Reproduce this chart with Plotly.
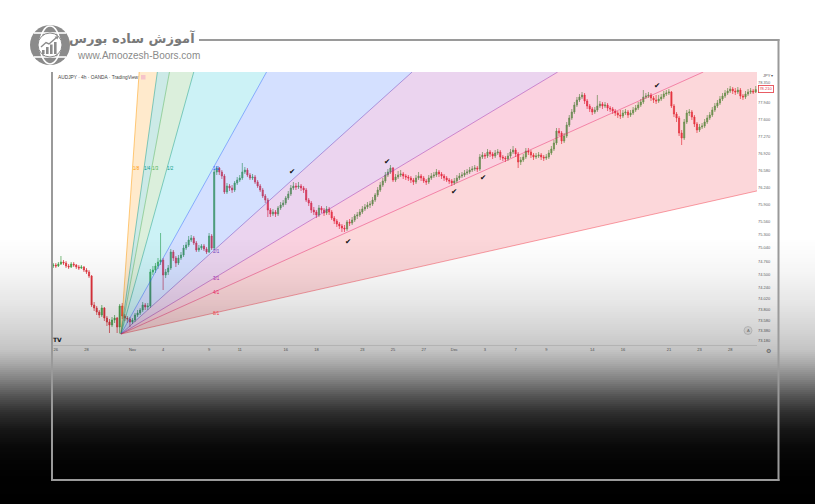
import numpy as np
import plotly.graph_objects as go

W, H = 815, 504

# ------------------------------------------------------------------ data
open_prices = [
 74.68, 74.70, 74.68, 74.72, 74.76, 74.74, 74.68, 74.66, 74.72, 74.70,
 74.66, 74.64, 74.66, 74.60, 74.56, 74.48, 73.90, 73.84, 73.76, 73.70,
 73.84, 73.64, 73.56, 73.50, 73.60, 73.64, 73.46, 73.88, 73.68, 73.64,
 73.62, 73.56, 73.60, 73.70, 73.74, 73.80, 73.90, 73.86, 73.88, 74.56,
 74.60, 74.68, 74.76, 74.80, 74.50, 74.56, 74.64, 74.96, 74.84, 74.74,
 74.84, 74.90, 75.04, 75.10, 75.20, 75.24, 75.14, 75.00, 75.04, 75.08,
 75.02, 74.96, 75.28, 75.04, 76.56, 76.64, 76.56, 76.48, 76.16, 76.28,
 76.24, 76.20, 76.34, 76.40, 76.44, 76.56, 76.60, 76.50, 76.44, 76.46,
 76.36, 76.28, 76.20, 76.08, 76.00, 75.80, 75.72, 75.76, 75.72, 75.84,
 75.90, 75.94, 76.04, 76.12, 76.24, 76.28, 76.26, 76.28, 76.24, 76.20,
 76.00, 75.94, 75.80, 75.76, 75.70, 75.84, 75.80, 75.74, 75.82, 75.76,
 75.64, 75.58, 75.52, 75.48, 75.44, 75.42, 75.56, 75.54, 75.60, 75.68,
 75.70, 75.76, 75.82, 75.86, 75.90, 75.92, 76.00, 76.10, 76.20, 76.30,
 76.38, 76.50, 76.56, 76.64, 76.40, 76.46, 76.50, 76.52, 76.48, 76.46,
 76.44, 76.40, 76.36, 76.44, 76.48, 76.44, 76.38, 76.36, 76.44, 76.48,
 76.50, 76.56, 76.52, 76.48, 76.44, 76.40, 76.38, 76.34, 76.38, 76.44,
 76.48, 76.50, 76.54, 76.56, 76.60, 76.62, 76.64, 76.62, 76.86, 76.90,
 76.88, 76.96, 76.92, 76.88, 76.94, 76.96, 76.86, 76.84, 76.82, 76.88,
 76.96, 77.00, 76.92, 76.76, 76.80, 76.86, 76.98, 76.96, 76.90, 76.86,
 76.88, 76.90, 76.86, 76.84, 76.86, 76.94, 77.02, 77.14, 77.38, 77.34,
 77.18, 77.28, 77.50, 77.64, 77.76, 77.90, 78.00, 78.06, 78.10, 77.98,
 77.88, 77.82, 77.76, 77.80, 77.88, 77.92, 77.88, 77.90, 77.84, 77.82,
 77.78, 77.74, 77.70, 77.68, 77.74, 77.76, 77.70, 77.74, 77.80, 77.84,
 77.90, 77.96, 78.06, 78.08, 78.10, 78.04, 78.00, 77.98, 78.02, 78.06,
 78.12, 78.14, 78.16, 77.88, 77.72, 77.64, 77.34, 77.24, 77.56, 77.74,
 77.76, 77.66, 77.52, 77.40, 77.46, 77.48, 77.56, 77.64, 77.70, 77.80,
 77.88, 77.94, 78.02, 78.08, 78.14, 78.18, 78.22, 78.18, 78.16, 78.20,
 78.08, 78.06, 78.12, 78.16, 78.18, 78.16]

high_prices = [
 74.74, 74.74, 74.76, 74.88, 74.80, 74.78, 74.72, 74.76, 74.76, 74.72,
 74.70, 74.70, 74.68, 74.64, 74.60, 74.50, 73.96, 73.88, 73.80, 73.90,
 73.86, 73.68, 73.62, 73.66, 73.70, 73.66, 73.92, 73.94, 73.72, 73.68,
 73.66, 73.64, 73.74, 73.80, 73.84, 73.96, 73.94, 73.94, 74.62, 74.68,
 74.74, 74.84, 75.34, 74.84, 74.62, 74.70, 75.02, 75.00, 74.88, 74.90,
 74.96, 75.10, 75.16, 75.28, 75.30, 75.28, 75.18, 75.10, 75.12, 75.12,
 75.06, 75.34, 75.32, 76.62, 76.68, 76.66, 76.60, 76.52, 76.34, 76.32,
 76.30, 76.38, 76.46, 76.50, 76.74, 76.66, 76.64, 76.54, 76.52, 76.50,
 76.40, 76.32, 76.24, 76.12, 76.04, 75.84, 75.82, 75.80, 75.88, 75.96,
 76.00, 76.08, 76.18, 76.30, 76.36, 76.34, 76.36, 76.32, 76.28, 76.24,
 76.04, 75.98, 75.86, 75.80, 75.90, 75.88, 75.84, 75.88, 75.86, 75.80,
 75.68, 75.62, 75.56, 75.52, 75.50, 75.60, 75.62, 75.66, 75.72, 75.76,
 75.82, 75.88, 75.92, 75.96, 75.98, 76.06, 76.14, 76.26, 76.36, 76.44,
 76.56, 76.62, 76.70, 76.66, 76.52, 76.58, 76.60, 76.56, 76.52, 76.50,
 76.48, 76.44, 76.50, 76.56, 76.52, 76.48, 76.42, 76.50, 76.54, 76.56,
 76.62, 76.60, 76.56, 76.52, 76.48, 76.44, 76.42, 76.44, 76.50, 76.54,
 76.56, 76.60, 76.62, 76.66, 76.68, 76.70, 76.68, 76.92, 76.96, 76.94,
 77.02, 77.00, 76.96, 77.00, 77.02, 77.00, 76.90, 76.88, 76.94, 77.02,
 77.08, 77.04, 76.96, 76.86, 76.92, 77.04, 77.04, 77.00, 76.94, 76.94,
 76.96, 76.94, 76.90, 76.92, 77.00, 77.08, 77.20, 77.44, 77.44, 77.38,
 77.34, 77.56, 77.70, 77.82, 77.96, 78.06, 78.12, 78.16, 78.14, 78.02,
 77.92, 77.86, 77.86, 78.10, 77.98, 77.96, 77.96, 77.94, 77.88, 77.86,
 77.82, 77.78, 77.80, 77.80, 77.82, 77.80, 77.80, 77.86, 77.90, 77.96,
 78.02, 78.20, 78.14, 78.16, 78.14, 78.08, 78.10, 78.10, 78.12, 78.18,
 78.20, 78.22, 78.18, 77.92, 77.76, 77.68, 77.40, 77.62, 77.80, 77.82,
 77.80, 77.70, 77.56, 77.52, 77.54, 77.62, 77.70, 77.76, 77.86, 77.94,
 78.00, 78.08, 78.14, 78.20, 78.24, 78.28, 78.26, 78.24, 78.26, 78.24,
 78.12, 78.18, 78.22, 78.24, 78.22, 78.28]

low_prices = [
 74.64, 74.64, 74.66, 74.70, 74.70, 74.64, 74.62, 74.64, 74.66, 74.62,
 74.60, 74.62, 74.56, 74.52, 74.44, 73.86, 73.78, 73.70, 73.64, 73.66,
 73.58, 73.48, 73.34, 73.46, 73.54, 73.34, 73.33, 73.62, 73.58, 73.54,
 73.46, 73.52, 73.56, 73.66, 73.70, 73.76, 73.80, 73.80, 73.84, 74.50,
 74.54, 74.62, 74.70, 74.20, 74.44, 74.50, 74.60, 74.78, 74.66, 74.70,
 74.80, 74.86, 75.00, 75.06, 75.16, 75.10, 74.96, 74.96, 75.00, 74.98,
 74.92, 74.94, 75.00, 75.00, 76.50, 76.50, 76.42, 76.12, 76.12, 76.18,
 76.14, 76.16, 76.30, 76.36, 76.40, 76.52, 76.46, 76.40, 76.40, 76.32,
 76.24, 76.16, 76.04, 75.94, 75.66, 75.66, 75.68, 75.66, 75.68, 75.80,
 75.86, 75.90, 76.00, 76.08, 76.20, 76.20, 76.22, 76.18, 76.14, 75.96,
 75.88, 75.74, 75.70, 75.64, 75.66, 75.74, 75.68, 75.70, 75.70, 75.60,
 75.52, 75.46, 75.42, 75.36, 75.36, 75.38, 75.48, 75.50, 75.56, 75.62,
 75.66, 75.72, 75.78, 75.82, 75.84, 75.88, 75.96, 76.06, 76.16, 76.26,
 76.34, 76.46, 76.52, 76.36, 76.36, 76.42, 76.46, 76.42, 76.40, 76.38,
 76.34, 76.30, 76.32, 76.40, 76.38, 76.34, 76.30, 76.32, 76.40, 76.44,
 76.46, 76.46, 76.42, 76.38, 76.36, 76.32, 76.28, 76.30, 76.34, 76.40,
 76.44, 76.46, 76.50, 76.52, 76.56, 76.58, 76.56, 76.58, 76.82, 76.82,
 76.84, 76.86, 76.82, 76.84, 76.90, 76.80, 76.78, 76.76, 76.78, 76.84,
 76.92, 76.86, 76.64, 76.70, 76.76, 76.82, 76.90, 76.84, 76.80, 76.82,
 76.84, 76.80, 76.78, 76.80, 76.82, 76.90, 76.98, 77.10, 77.28, 77.12,
 77.14, 77.24, 77.46, 77.60, 77.72, 77.86, 77.96, 78.02, 77.92, 77.82,
 77.76, 77.70, 77.72, 77.76, 77.84, 77.82, 77.84, 77.78, 77.76, 77.72,
 77.68, 77.64, 77.62, 77.64, 77.70, 77.64, 77.66, 77.70, 77.76, 77.80,
 77.86, 77.92, 78.02, 78.04, 77.98, 77.94, 77.92, 77.94, 77.98, 78.02,
 78.08, 78.10, 77.84, 77.66, 77.56, 77.28, 77.10, 77.20, 77.52, 77.68,
 77.60, 77.46, 77.34, 77.36, 77.42, 77.44, 77.52, 77.60, 77.66, 77.76,
 77.84, 77.90, 77.98, 78.04, 78.10, 78.14, 78.12, 78.10, 78.12, 78.02,
 78.00, 78.02, 78.08, 78.12, 78.12, 78.14]

close_prices = [
 74.70, 74.68, 74.72, 74.76, 74.74, 74.68, 74.66, 74.72, 74.70, 74.66,
 74.64, 74.66, 74.60, 74.56, 74.48, 73.90, 73.84, 73.76, 73.70, 73.84,
 73.64, 73.56, 73.50, 73.60, 73.64, 73.46, 73.88, 73.68, 73.64, 73.62,
 73.56, 73.60, 73.70, 73.74, 73.80, 73.90, 73.86, 73.88, 74.56, 74.60,
 74.68, 74.76, 74.80, 74.50, 74.56, 74.64, 74.96, 74.84, 74.74, 74.84,
 74.90, 75.04, 75.10, 75.20, 75.24, 75.14, 75.00, 75.04, 75.08, 75.02,
 74.96, 75.28, 75.04, 76.56, 76.64, 76.56, 76.48, 76.16, 76.28, 76.24,
 76.20, 76.34, 76.40, 76.44, 76.56, 76.60, 76.50, 76.44, 76.46, 76.36,
 76.28, 76.20, 76.08, 76.00, 75.80, 75.72, 75.76, 75.72, 75.84, 75.90,
 75.94, 76.04, 76.12, 76.24, 76.28, 76.26, 76.28, 76.24, 76.20, 76.00,
 75.94, 75.80, 75.76, 75.70, 75.84, 75.80, 75.74, 75.82, 75.76, 75.64,
 75.58, 75.52, 75.48, 75.44, 75.42, 75.56, 75.54, 75.60, 75.68, 75.70,
 75.76, 75.82, 75.86, 75.90, 75.92, 76.00, 76.10, 76.20, 76.30, 76.38,
 76.50, 76.56, 76.64, 76.40, 76.46, 76.50, 76.52, 76.48, 76.46, 76.44,
 76.40, 76.36, 76.44, 76.48, 76.44, 76.38, 76.36, 76.44, 76.48, 76.50,
 76.56, 76.52, 76.48, 76.44, 76.40, 76.38, 76.34, 76.38, 76.44, 76.48,
 76.50, 76.54, 76.56, 76.60, 76.62, 76.64, 76.62, 76.86, 76.90, 76.88,
 76.96, 76.92, 76.88, 76.94, 76.96, 76.86, 76.84, 76.82, 76.88, 76.96,
 77.00, 76.92, 76.76, 76.80, 76.86, 76.98, 76.96, 76.90, 76.86, 76.88,
 76.90, 76.86, 76.84, 76.86, 76.94, 77.02, 77.14, 77.38, 77.34, 77.18,
 77.28, 77.50, 77.64, 77.76, 77.90, 78.00, 78.06, 78.10, 77.98, 77.88,
 77.82, 77.76, 77.80, 77.88, 77.92, 77.88, 77.90, 77.84, 77.82, 77.78,
 77.74, 77.70, 77.68, 77.74, 77.76, 77.70, 77.74, 77.80, 77.84, 77.90,
 77.96, 78.06, 78.08, 78.10, 78.04, 78.00, 77.98, 78.02, 78.06, 78.12,
 78.14, 78.16, 77.88, 77.72, 77.64, 77.34, 77.24, 77.56, 77.74, 77.76,
 77.66, 77.52, 77.40, 77.46, 77.48, 77.56, 77.64, 77.70, 77.80, 77.88,
 77.94, 78.02, 78.08, 78.14, 78.18, 78.22, 78.18, 78.16, 78.20, 78.08,
 78.06, 78.12, 78.16, 78.18, 78.16, 78.21]

candle_idx = list(range(len(close_prices)))

day_tick_idx = [1, 13, 31, 43, 61, 73, 91, 103, 121, 133, 145, 157, 169, 181,
                193, 211, 223, 241, 253, 265]
day_tick_text = ["26", "28", "Nov", "4", "9", "11", "16", "18", "23", "25", "27",
                 "Dec", "3", "7", "9", "14", "16", "21", "23", "28"]

price_tick_vals = [78.35, 77.94, 77.60, 77.27, 76.92, 76.58, 76.24, 75.90, 75.56,
                   75.30, 75.04, 74.76, 74.50, 74.24, 74.02, 73.80, 73.58, 73.38, 73.18]
price_tick_text = ["78.350", "77.940", "77.600", "77.270", "76.920", "76.580",
                   "76.240", "75.900", "75.560", "75.300", "75.040", "74.760",
                   "74.500", "74.240", "74.020", "73.800", "73.580", "73.380", "73.180"]

# Gann fan anchors (candle index, price)
fan_anchor = (26.5, 73.32)
fan_box = (62.5, 76.63)
fan_ratios = [8, 4, 3, 2, 1, 1 / 2, 1 / 3, 1 / 4, 1 / 8]
fan_labels = ["1/8", "1/4", "1/3", "1/2", "1/1", "2/1", "3/1", "4/1", "8/1"]
fan_line_colors = ["rgba(255,152,0,0.55)", "rgba(0,150,136,0.5)", "rgba(76,175,80,0.5)",
                   "rgba(8,153,129,0.5)", "rgba(41,98,255,0.5)", "rgba(103,58,183,0.5)",
                   "rgba(156,39,176,0.5)", "rgba(233,30,99,0.5)", "rgba(242,54,69,0.5)"]
fan_label_colors = ["#FF9800", "#009688", "#4CAF50", "#089981", "#2962FF",
                    "#673AB7", "#9C27B0", "#E91E63", "#F23645"]
fan_band_colors = ["rgba(255,152,0,0.2)", "rgba(0,150,136,0.2)", "rgba(76,175,80,0.2)",
                   "rgba(0,188,212,0.2)", "rgba(41,98,255,0.2)", "rgba(156,39,176,0.2)",
                   "rgba(233,30,99,0.2)", "rgba(242,54,69,0.2)"]

check_idx = [93.5, 130.7, 115.4, 156.9, 168.2, 236.4]
check_price = [76.56, 76.76, 75.16, 76.16, 76.44, 78.28]

# ------------------------------------------------------------------ helpers
def PX(x):
    return x / W


def PY(y):
    return 1 - y / H


X_MIN, X_MAX = -0.5, 275.5
Y_MIN, Y_MAX = 73.10, 78.56
unit_slope = (fan_box[1] - fan_anchor[1]) / (fan_box[0] - fan_anchor[0])


def fan_end(r):
    s = unit_slope * r
    xt = fan_anchor[0] + (Y_MAX - fan_anchor[1]) / s
    if xt <= X_MAX:
        return xt, Y_MAX, "top"
    return X_MAX, fan_anchor[1] + s * (X_MAX - fan_anchor[0]), "right"


fig = go.Figure()

# fan bands
for k in range(len(fan_ratios) - 1):
    xa, ya, sa = fan_end(fan_ratios[k])
    xb, yb, sb = fan_end(fan_ratios[k + 1])
    xs = [fan_anchor[0], xa]
    ys = [fan_anchor[1], ya]
    if sa == "top" and sb == "right":
        xs.append(X_MAX)
        ys.append(Y_MAX)
    xs += [xb, fan_anchor[0]]
    ys += [yb, fan_anchor[1]]
    fig.add_trace(go.Scatter(x=xs, y=ys, mode="lines", fill="toself",
                             fillcolor=fan_band_colors[k], line=dict(width=0),
                             hoverinfo="skip", showlegend=False))

# fan lines
for r, col in zip(fan_ratios, fan_line_colors):
    xe, ye, _ = fan_end(r)
    fig.add_trace(go.Scatter(x=[fan_anchor[0], xe], y=[fan_anchor[1], ye], mode="lines",
                             line=dict(color=col, width=0.9), hoverinfo="skip",
                             showlegend=False))

GREEN = "#47a34c"
RED = "#e3343e"
fig.add_trace(go.Candlestick(
    x=candle_idx, open=open_prices, high=high_prices, low=low_prices, close=close_prices,
    increasing=dict(line=dict(color=GREEN, width=0.7), fillcolor=GREEN),
    decreasing=dict(line=dict(color=RED, width=0.7), fillcolor=RED),
    whiskerwidth=0, hoverinfo="skip", showlegend=False))

# ------------------------------------------------------------------ shapes
shapes = []
GLOBE = "#8b8b8b"
# globe logo
shapes.append(dict(type="circle", xref="paper", yref="paper", x0=PX(30), x1=PX(70),
                   y0=PY(65), y1=PY(25), fillcolor=GLOBE, line=dict(width=0), layer="above"))
shapes.append(dict(type="circle", xref="paper", yref="paper", x0=PX(40), x1=PX(60),
                   y0=PY(64), y1=PY(26), line=dict(color="white", width=1.6), layer="above"))
for yy, half in [(33, 16), (57, 16)]:
    shapes.append(dict(type="line", xref="paper", yref="paper", x0=PX(50 - half),
                       x1=PX(50 + half), y0=PY(yy), y1=PY(yy),
                       line=dict(color="white", width=1.6), layer="above"))
shapes.append(dict(type="circle", xref="paper", yref="paper", x0=PX(38), x1=PX(62),
                   y0=PY(57), y1=PY(33), fillcolor="white",
                   line=dict(color=GLOBE, width=1), layer="above"))
for bx, top in [(42, 50), (46, 47), (50, 44.5), (54, 42)]:
    shapes.append(dict(type="rect", xref="paper", yref="paper", x0=PX(bx), x1=PX(bx + 2.6),
                       y0=PY(54), y1=PY(top), fillcolor=GLOBE, line=dict(width=0),
                       layer="above"))
arrow_pts = [(41, 47), (46, 42.5), (49, 44), (56.5, 37.5)]
path = "M " + " L ".join(f"{PX(a):.5f},{PY(b):.5f}" for a, b in arrow_pts)
shapes.append(dict(type="path", xref="paper", yref="paper", path=path,
                   line=dict(color=GLOBE, width=1.4), layer="above"))
head = [(58.5, 36), (54.5, 36.8), (57.5, 39.6)]
path = "M " + " L ".join(f"{PX(a):.5f},{PY(b):.5f}" for a, b in head) + " Z"
shapes.append(dict(type="path", xref="paper", yref="paper", path=path,
                   fillcolor=GLOBE, line=dict(width=0), layer="above"))

# small pink icon next to chart title
shapes.append(dict(type="rect", xref="paper", yref="paper", x0=PX(141), x1=PX(145.5),
                   y0=PY(79.5), y1=PY(75), fillcolor="#f6c3ca", line=dict(width=0),
                   layer="above"))
# auto-scale circle icon near price axis
shapes.append(dict(type="circle", xref="paper", yref="paper", x0=PX(744), x1=PX(752),
                   y0=PY(334.5), y1=PY(326.5), fillcolor="#f2f2f2",
                   line=dict(color="#cfcfcf", width=0.8), layer="above"))

# darkening gradient toward the bottom
grad_y = [238, 270, 300, 330, 350, 363, 380, 397, 413, 430, 447, 465, 480, 504]
grad_level = [255, 246, 232, 212, 196, 170, 128, 82, 46, 22, 9, 3, 1, 0]
for y in range(238, 504, 2):
    lvl = float(np.interp(y + 1, grad_y, grad_level))
    a = 1 - lvl / 255
    if a <= 0.003:
        continue
    shapes.append(dict(type="rect", xref="paper", yref="paper", x0=0, x1=1,
                       y0=PY(y + 2), y1=PY(y), fillcolor=f"rgba(0,0,0,{a:.3f})",
                       line=dict(width=0), layer="above"))

# frame
FRAME = "#9a9a9a"
for x0, y0, x1, y1 in [(199, 40, 779.5, 40), (778.5, 39, 778.5, 481),
                       (51, 480, 779.5, 480), (52, 72, 52, 481)]:
    shapes.append(dict(type="line", xref="paper", yref="paper", x0=PX(x0), x1=PX(x1),
                       y0=PY(y0), y1=PY(y1), line=dict(color=FRAME, width=2),
                       layer="above"))

# ------------------------------------------------------------------ annotations
ann = []
ann.append(dict(text="<b>آموزش ساده بورس</b>", xref="paper", yref="paper", x=PX(197),
                y=PY(38.5), xanchor="right", yanchor="middle", showarrow=False,
                font=dict(family="DejaVu Sans", size=13, color="#7a7a7a")))
ann.append(dict(text="www.Amoozesh-Boors.com", xref="paper", yref="paper", x=PX(75),
                y=PY(55.5), xanchor="left", yanchor="middle", showarrow=False,
                font=dict(family="Liberation Sans", size=10, color="#8a8a8a")))
ann.append(dict(text="AUDJPY · 4h · OANDA · TradingView", xref="paper", yref="paper",
                x=PX(55.5), y=PY(77), xanchor="left", yanchor="middle", showarrow=False,
                font=dict(family="Liberation Sans", size=4.8, color="#444444")))
ann.append(dict(text="JPY ▾", xref="paper", yref="paper", x=PX(761), y=PY(75.5),
                xanchor="left", yanchor="middle", showarrow=False,
                font=dict(family="Liberation Sans", size=4, color="#555555")))
ann.append(dict(text=f"{close_prices[-1]:.3f}", xref="paper", yref="y", x=PX(766),
                y=close_prices[-1], xanchor="center", yanchor="middle", showarrow=False,
                font=dict(family="Liberation Sans", size=4, color=RED),
                bordercolor=RED, borderwidth=0.8, borderpad=0.6, bgcolor="white"))
ann.append(dict(text="<b>TV</b>", xref="paper", yref="paper", x=PX(57.5), y=PY(339),
                xanchor="center", yanchor="middle", showarrow=False,
                font=dict(family="DejaVu Sans", size=6, color="#131722")))
ann.append(dict(text="A", xref="paper", yref="paper", x=PX(748), y=PY(330.5),
                xanchor="center", yanchor="middle", showarrow=False,
                font=dict(family="Liberation Sans", size=4, color="#666666")))
ann.append(dict(text="⚙", xref="paper", yref="paper", x=PX(768), y=PY(350),
                xanchor="center", yanchor="middle", showarrow=False,
                font=dict(family="DejaVu Sans", size=6, color="#555555")))

# fan labels
for r, lab, col in zip(fan_ratios, fan_labels, fan_label_colors):
    if r >= 1:
        lx = fan_anchor[0] + (fan_box[1] - fan_anchor[1]) / (unit_slope * r) + 1.5
        ly = fan_box[1]
    else:
        lx = fan_box[0] + 1.5
        ly = fan_anchor[1] + (fan_box[1] - fan_anchor[1]) * r
    ann.append(dict(text=lab, x=lx, y=ly, xref="x", yref="y", showarrow=False,
                    xanchor="center", yanchor="middle",
                    font=dict(family="Liberation Sans", size=4.5, color=col)))

# check marks at the touches
for cx, cy in zip(check_idx, check_price):
    ann.append(dict(text="✔", x=cx, y=cy, xref="x", yref="y", showarrow=False,
                    xanchor="center", yanchor="middle",
                    font=dict(family="DejaVu Sans", size=7.5, color="#111111")))

fig.update_layout(
    width=W, height=H, margin=dict(l=0, r=0, t=0, b=0),
    paper_bgcolor="white", plot_bgcolor="white", showlegend=False,
    boxgap=0.35,
    shapes=shapes, annotations=ann,
    xaxis=dict(domain=[PX(52), PX(757)], range=[X_MIN, X_MAX], tickvals=day_tick_idx,
               ticktext=day_tick_text, tickfont=dict(family="Liberation Sans", size=4,
                                                     color="#666666"),
               showgrid=False, zeroline=False, ticks="", showline=True,
               linecolor="#e4e4e4", linewidth=1, rangeslider=dict(visible=False),
               fixedrange=True),
    yaxis=dict(domain=[PY(345), PY(72)], range=[Y_MIN, Y_MAX], side="right",
               tickvals=price_tick_vals, ticktext=price_tick_text,
               tickfont=dict(family="Liberation Sans", size=4, color="#666666"),
               showgrid=False, zeroline=False, ticks="", fixedrange=True),
)

fig.write_html("out.html", config={"displayModeBar": False},
               post_script="document.body.style.margin='0px';"
                           "document.body.style.padding='0px';"
                           "document.body.style.overflow='hidden';")
